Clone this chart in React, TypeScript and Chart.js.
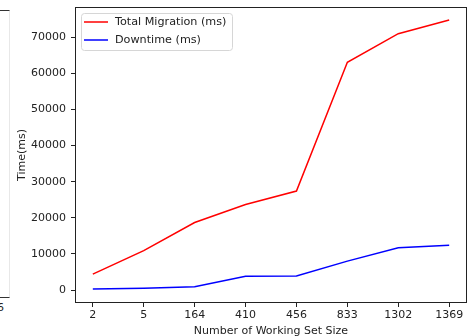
import React, { useEffect, useRef } from "react";
import { Chart, registerables } from "chart.js";

Chart.register(...registerables);

const workingSetSizes = ["2", "5", "164", "410", "456", "833", "1302", "1369"];
const totalMigration = [4400, 10900, 18700, 23700, 27400, 63100, 71000, 74800];
const downtime = [250, 500, 900, 3800, 3900, 8000, 11700, 12400];
const yTicks = [0, 10000, 20000, 30000, 40000, 50000, 60000, 70000];

const FONT = "'DejaVu Sans', sans-serif";
const FS = 11;

const framePlugin = {
  id: "frame",
  afterDatasetsDraw(chart: any) {
    const { ctx, chartArea } = chart;
    ctx.save();
    ctx.strokeStyle = "#222";
    ctx.lineWidth = 1;
    ctx.strokeRect(
      Math.round(chartArea.left) + 0.5,
      Math.round(chartArea.top) + 0.5,
      Math.round(chartArea.right - chartArea.left) - 1,
      Math.round(chartArea.bottom - chartArea.top) - 1
    );
    ctx.restore();
  },
};

const legendPlugin = {
  id: "mplLegend",
  afterDraw(chart: any) {
    const { ctx, chartArea } = chart;
    const x0 = chartArea.left + 6;
    const y0 = chartArea.top + 6;
    const w = 151;
    const h = 37;
    ctx.save();
    ctx.fillStyle = "rgba(255,255,255,0.85)";
    ctx.strokeStyle = "#d6d6d6";
    ctx.lineWidth = 1;
    ctx.beginPath();
    (ctx as any).roundRect(x0 + 0.5, y0 + 0.5, w, h, 3);
    ctx.fill();
    ctx.stroke();
    ctx.font = `11.2px ${FONT}`;
    ctx.textBaseline = "middle";
    chart.data.datasets.forEach((ds: any, i: number) => {
      const y = y0 + 9 + i * 18;
      ctx.strokeStyle = ds.borderColor;
      ctx.lineWidth = 1.5;
      ctx.beginPath();
      ctx.moveTo(x0 + 3, y);
      ctx.lineTo(x0 + 27, y);
      ctx.stroke();
      ctx.fillStyle = "#222";
      ctx.fillText(ds.label, x0 + 34, y + 0.5);
    });
    ctx.restore();
  },
};

export default function App() {
  const ref = useRef<HTMLCanvasElement | null>(null);

  useEffect(() => {
    if (!ref.current) return;
    const chart = new Chart(ref.current, {
      type: "line",
      data: {
        datasets: [
          {
            label: "Total Migration (ms)",
            data: totalMigration.map((v, i) => ({ x: i, y: v })),
            borderColor: "#ff0000",
            backgroundColor: "#ff0000",
            borderWidth: 1.5,
            pointRadius: 0,
            tension: 0,
          },
          {
            label: "Downtime (ms)",
            data: downtime.map((v, i) => ({ x: i, y: v })),
            borderColor: "#0000ff",
            backgroundColor: "#0000ff",
            borderWidth: 1.5,
            pointRadius: 0,
            tension: 0,
          },
        ],
      },
      options: {
        animation: false,
        responsive: false,
        maintainAspectRatio: false,
        layout: { padding: { top: 7, right: 5, left: 0, bottom: 0 } },
        plugins: {
          legend: { display: false },
          tooltip: { enabled: false },
        },
        scales: {
          x: {
            type: "linear",
            min: -0.35,
            max: workingSetSizes.length - 1 + 0.35,
            afterBuildTicks: (axis: any) => {
              axis.ticks = workingSetSizes.map((_, i) => ({ value: i }));
            },
            afterFit: (scale: any) => {
              scale.height = 33;
              scale.paddingLeft = 0;
              scale.paddingRight = 0;
            },
            ticks: {
              autoSkip: false,
              maxRotation: 0,
              padding: 2,
              color: "#222",
              font: { family: FONT, size: FS },
              callback: (v: any) => workingSetSizes[v as number] ?? "",
            },
            grid: {
              display: true,
              drawOnChartArea: false,
              drawTicks: true,
              tickLength: 4,
              tickColor: "#222",
            },
            border: { display: false },
            title: {
              display: true,
              text: "Number of Working Set Size",
              color: "#222",
              font: { family: FONT, size: FS, lineHeight: 1.2 },
              padding: { top: 0, bottom: -1.5 },
            },
          },
          y: {
            type: "linear",
            min: -3600,
            max: 78400,
            afterBuildTicks: (axis: any) => {
              axis.ticks = yTicks.map((v) => ({ value: v }));
            },
            afterFit: (scale: any) => {
              scale.width = 75;
              scale.paddingTop = 0;
              scale.paddingBottom = 0;
            },
            ticks: {
              padding: 5,
              color: "#222",
              font: { family: FONT, size: FS },
              callback: (v: any) => String(v),
            },
            grid: {
              display: true,
              drawOnChartArea: false,
              drawTicks: true,
              tickLength: 4,
              tickColor: "#222",
            },
            border: { display: false },
            title: {
              display: true,
              text: "Time(ms)",
              color: "#222",
              font: { family: FONT, size: FS, lineHeight: 1.2 },
              padding: { top: 15.5, bottom: 0 },
            },
          },
        },
      },
      plugins: [framePlugin, legendPlugin],
    } as any);
    return () => chart.destroy();
  }, []);

  return (
    <div
      style={{
        position: "fixed",
        left: 0,
        top: 0,
        width: 472,
        height: 336,
        background: "#fff",
        overflow: "hidden",
      }}
    >
      <div
        style={{
          position: "absolute",
          left: -20,
          top: 10,
          width: 30,
          height: 288,
          borderTop: "1px solid #333",
          borderBottom: "1px solid #333",
          borderRight: "1px solid #e8e8e8",
          boxSizing: "border-box",
        }}
      />
      <div
        style={{
          position: "absolute",
          left: -3,
          top: 301,
          fontFamily: FONT,
          fontSize: FS,
          color: "#222",
          lineHeight: "14px",
        }}
      >
        6
      </div>
      <canvas
        ref={ref}
        width={472}
        height={336}
        style={{ position: "absolute", left: 0, top: 0, width: 472, height: 336 }}
      />
    </div>
  );
}
